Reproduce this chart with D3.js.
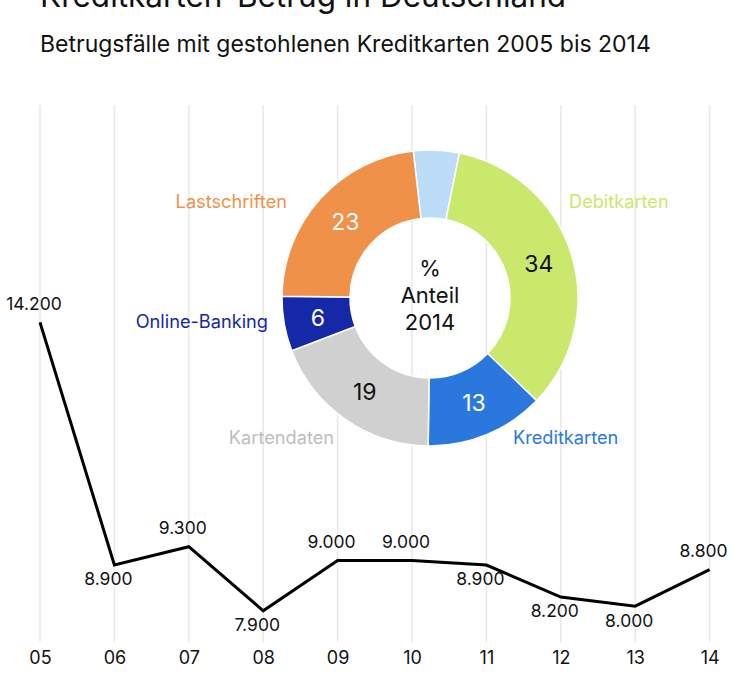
<!DOCTYPE html>
<html>
<head>
<meta charset="utf-8">
<script src="https://cdn.jsdelivr.net/npm/d3@7"></script>
<style>
  html, body { margin: 0; padding: 0; background: #fff; }
  svg { display: block; font-family: Inter, "Noto Sans", sans-serif; }
</style>
</head>
<body>
<svg id="chart" width="734" height="692"></svg>
<script>
// ---- Data ----
const years = ["05", "06", "07", "08", "09", "10", "11", "12", "13", "14"];
const cases = [14200, 8900, 9300, 7900, 9000, 9000, 8900, 8200, 8000, 8800];

const shareCategories = ["Sonstige", "Debitkarten", "Kreditkarten", "Kartendaten", "Online-Banking", "Lastschriften"];
const shareValues = [5, 34, 13, 19, 6, 23];
const shareColors = ["#bddcf8", "#c9e86c", "#2a78de", "#d0d0d0", "#1428a8", "#f0914a"];

const title = "Kreditkarten-Betrug in Deutschland";
const subtitle = "Betrugsfälle mit gestohlenen Kreditkarten 2005 bis 2014";
const centerLines = ["%", "Anteil", "2014"];

// ---- Layout ----
const svg = d3.select("#chart");

svg.append("text").attr("x", 40).attr("y", 7)
  .attr("font-size", 31.5).attr("fill", "#111").text(title);
svg.append("text").attr("x", 40).attr("y", 52)
  .attr("font-size", 23).attr("fill", "#111").text(subtitle);

const x = d3.scalePoint().domain(years).range([40, 709.6]).padding(0);
const y = d3.scaleLinear().domain([8000, 14200]).range([606.2, 322.4]);

// Gridlines
svg.append("g").selectAll("line").data(years).join("line")
  .attr("x1", d => x(d)).attr("x2", d => x(d))
  .attr("y1", 105).attr("y2", 642)
  .attr("stroke", "#e8e8e8").attr("stroke-width", 1.5);

// X axis labels
const xAxis = d3.axisBottom(x).tickSize(0).tickPadding(0);
const gx = svg.append("g").attr("transform", "translate(0,651)").call(xAxis);
gx.select(".domain").remove();
gx.selectAll("text").attr("font-size", 18).attr("font-family", "Inter, sans-serif")
  .attr("fill", "#111").attr("dy", "0.71em");

// Donut
const cx = 430, cy = 298, R = 148, r = 80;
const a0 = -6.5 * Math.PI / 180;
const pie = d3.pie().sort(null).value(d => d.v).startAngle(a0).endAngle(a0 + 2 * Math.PI);
const arc = d3.arc().innerRadius(r).outerRadius(R);
const pieData = pie(shareCategories.map((c, i) => ({ c, v: shareValues[i], color: shareColors[i] })));
const gp = svg.append("g").attr("transform", `translate(${cx},${cy})`);
gp.selectAll("path").data(pieData).join("path")
  .attr("d", arc).attr("fill", d => d.data.color)
  .attr("stroke", "#fff").attr("stroke-width", 1.5);

const darkText = new Set(["Debitkarten", "Kartendaten"]);
gp.selectAll("text.val").data(pieData.filter(d => d.data.c !== "Sonstige")).join("text")
  .attr("class", "val")
  .attr("transform", d => `translate(${arc.centroid(d)})`)
  .attr("text-anchor", "middle").attr("dy", "0.36em")
  .attr("font-size", 23)
  .attr("fill", d => darkText.has(d.data.c) ? "#111" : "#fff")
  .text(d => d.data.v);

// outer category labels (anchor offsets relative to donut centre)
const labelPlace = {
  "Lastschriften": [-143, -97, "end"],
  "Debitkarten": [139, -97, "start"],
  "Online-Banking": [-162, 23, "end"],
  "Kartendaten": [-96, 139, "end"],
  "Kreditkarten": [83, 139, "start"]
};
const labelColor = { "Kartendaten": "#bdbdbd" };
gp.selectAll("text.cat").data(pieData.filter(d => labelPlace[d.data.c])).join("text")
  .attr("class", "cat")
  .attr("x", d => labelPlace[d.data.c][0]).attr("y", d => labelPlace[d.data.c][1])
  .attr("text-anchor", d => labelPlace[d.data.c][2]).attr("dy", "0.36em")
  .attr("font-size", 18.2)
  .attr("fill", d => labelColor[d.data.c] || d.data.color)
  .text(d => d.data.c);

gp.selectAll("text.center").data(centerLines).join("text")
  .attr("class", "center")
  .attr("x", 0).attr("y", (d, i) => -30 + i * 27)
  .attr("text-anchor", "middle").attr("dy", "0.36em")
  .attr("font-size", 22).attr("fill", "#111")
  .text(d => d);

// Line
const pts = years.map((yr, i) => ({ yr, v: cases[i], i }));
const line = d3.line().x(d => x(d.yr)).y(d => y(d.v));
svg.append("path").datum(pts).attr("d", line)
  .attr("fill", "none").attr("stroke", "#000").attr("stroke-width", 3)
  .attr("stroke-linejoin", "miter");

// Data labels: above for local highs, below otherwise
function isHigh(i) {
  const v = cases[i];
  const prev = i > 0 ? cases[i - 1] : -Infinity;
  const next = i < cases.length - 1 ? cases[i + 1] : -Infinity;
  return v >= prev && v >= next;
}
const fmt = v => d3.format(",")(v).replace(/,/g, ".");
svg.append("g").selectAll("text").data(pts).join("text")
  .attr("x", d => x(d.yr) - 6)
  .attr("y", d => y(d.v) + (isHigh(d.i) ? -19 : 14))
  .attr("text-anchor", "middle").attr("dy", "0.36em")
  .attr("font-size", 17.5).attr("fill", "#111")
  .text(d => fmt(d.v));
</script>
</body>
</html>
